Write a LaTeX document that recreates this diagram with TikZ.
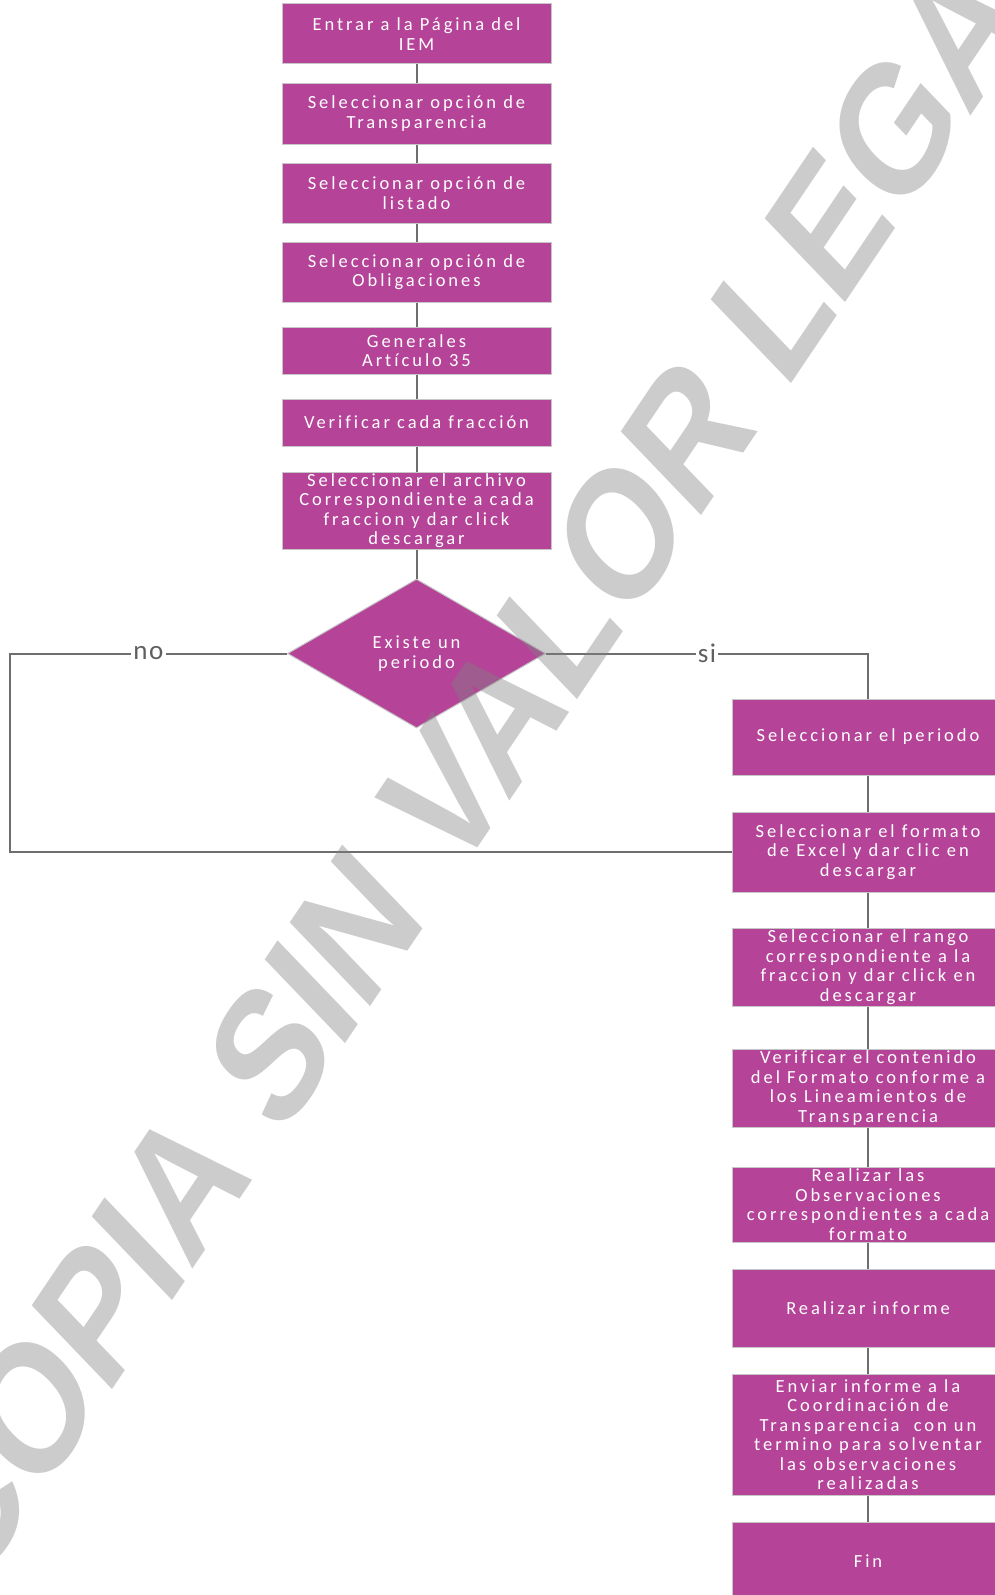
\documentclass[tikz,border=0pt]{standalone}
\usepackage{fontspec}
\setmainfont{Carlito}[LetterSpace=16, Ligatures=NoCommon]
\newfontfamily\answerfont{Carlito}[LetterSpace=6]
\newfontfamily\markfont{Liberation Sans}
\usetikzlibrary{shapes.geometric}

\definecolor{boxpurple}{RGB}{181,68,153}
\definecolor{linegray}{RGB}{110,110,110}
\definecolor{labelgray}{RGB}{95,95,95}

\begin{document}
\begin{tikzpicture}[
            x=1pt, y=-1pt,
            box/.style={
                rectangle,
                fill=boxpurple,
                draw=gray!45,
                line width=1pt,
                minimum width=269pt,
                inner sep=0pt,
                align=center,
                text=white,
                font=\fontsize{18.5}{19.5}\selectfont
            },
            sidebox/.style={
                box,
                minimum width=272pt
            },
            decision/.style={
                diamond,
                fill=boxpurple,
                draw=gray!45,
                line width=1pt,
                minimum width=258pt,
                minimum height=149pt,
                inner sep=0pt,
                align=center,
                text=white,
                font=\fontsize{18.5}{19.5}\selectfont
            },
            link/.style={draw=linegray, line width=2pt},
            answer/.style={
                fill=white,
                text=labelgray,
                inner sep=2pt,
                font=\answerfont\fontsize{27}{27}\selectfont
            },
            stamp/.style={
                text=black!50,
                text opacity=0.4,
                inner sep=0pt,
                font=\markfont\bfseries\fontsize{170}{170}\selectfont
            }
        ]
        
        \useasboundingbox (0,0) rectangle (995,1595);
        
        % Left column
        \node[box, minimum height=60pt] (b1) at (416.5,34) {Entrar a la Página del\\IEM};
        \node[box, minimum height=61pt] (b2) at (416.5,113.5) {Seleccionar opción de\\Transparencia};
        \node[box, minimum height=60pt] (b3) at (416.5,193) {Seleccionar opción de\\listado};
        \node[box, minimum height=60pt] (b4) at (416.5,272) {Seleccionar opción de\\Obligaciones};
        \node[box, minimum height=47pt] (b5) at (416.5,350.5) {Generales\\Artículo 35};
        \node[box, minimum height=47pt] (b6) at (416.5,422.5) {Verificar cada fracción};
        \node[box, minimum height=77pt] (b7) at (416.5,510.5) {Seleccionar el archivo\\Correspondiente a cada\\fraccion y dar click\\descargar};
        
        % Decision
        \node[decision] (dec) at (416.5,653.5) {Existe un\\periodo};
        
        % Right column
        \node[sidebox, minimum height=76pt] (r1) at (868,737) {Seleccionar el periodo};
        \node[sidebox, minimum height=80pt] (r2) at (868,852) {Seleccionar el formato\\de Excel y dar clic en\\descargar};
        \node[sidebox, minimum height=78pt] (r3) at (868,967) {Seleccionar el rango\\correspondiente a la\\fraccion y dar click en\\descargar};
        \node[sidebox, minimum height=78pt] (r4) at (868,1088) {Verificar el contenido\\del Formato conforme a\\los Lineamientos de\\Transparencia};
        \node[sidebox, minimum height=75pt] (r5) at (868,1204.5) {Realizar las\\Observaciones\\correspondientes a cada\\formato};
        \node[sidebox, minimum height=78pt] (r6) at (868,1308) {Realizar informe};
        \node[sidebox, minimum height=121pt] (r7) at (868,1434.5) {Enviar informe a la\\Coordinación de\\Transparencia\ \ con un\\termino para solventar\\las observaciones\\realizadas};
        \node[sidebox, minimum height=78pt] (r8) at (868,1561) {Fin};
        
        % Connecting lines
        \draw[link] (b1) -- (b2);
        \draw[link] (b2) -- (b3);
        \draw[link] (b3) -- (b4);
        \draw[link] (b4) -- (b5);
        \draw[link] (b5) -- (b6);
        \draw[link] (b6) -- (b7);
        \draw[link] (b7) -- (dec);
        \draw[link] (r1) -- (r2);
        \draw[link] (r2) -- (r3);
        \draw[link] (r3) -- (r4);
        \draw[link] (r4) -- (r5);
        \draw[link] (r5) -- (r6);
        \draw[link] (r6) -- (r7);
        \draw[link] (r7) -- (r8);
        
        % Branches of the decision
        \coordinate (noturn) at (10,653.5);
        \coordinate (noback) at (10,852);
        \draw[link] (dec.east) -- node[answer] {si} (dec.east -| r1.north) -- (r1.north);
        \draw[link] (dec.west) -- node[answer] {no} (noturn) -- (noback) -- (r2.west);
        
        % Watermark on top
        \begin{scope}[shift={(490,728)}]
            \node[stamp, rotate=56, xscale=0.94, xslant=0.23, yscale=0.97, transform shape] (mark) at (0,0) {COPIA SIN VALOR LEGAL};
        \end{scope}
        
        \end{tikzpicture}
\end{document}
